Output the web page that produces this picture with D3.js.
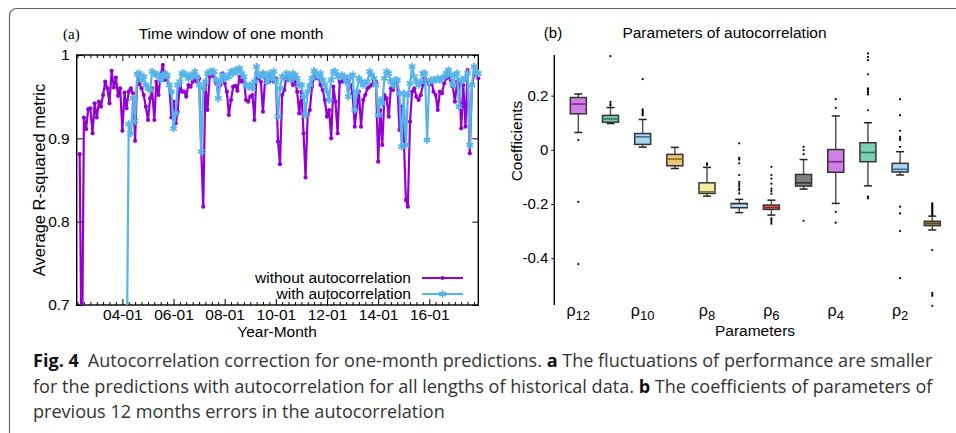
<!DOCTYPE html>
<html lang="en">
  <head>
    <meta charset="utf-8">
    <title>Fig. 4</title>
    <script src="https://cdn.jsdelivr.net/npm/d3@7"></script>
    <style>
html, body {
  margin: 0;
  padding: 0;
  background: #fff;
}
svg {
  display: block;
  font-family: "Liberation Sans", Arial, sans-serif;
}
.axis text {
  font-size: 15px;
  fill: #000;
}
.axis path.domain {
  display: none;
}
.caption {
  font-family: "Open Sans", "Noto Sans", sans-serif;
  fill: #333;
}
    </style>
  </head>
  <body>
    <svg id="fig" width="956" height="433"></svg>
    <script>

// ---- data (a): average R-squared, one value per month ----
// without autocorrelation starts 2002-05, with autocorrelation starts 2004-03
var startWithout = [2002, 4];
var startWith = [2004, 2];

var withoutAuto = [
  0.881, 0.600, 0.925, 0.911, 0.935, 0.936, 0.906, 0.942, 0.925, 0.944,
  0.938, 0.952, 0.968, 0.960, 0.942, 0.981, 0.961, 0.973, 0.951, 0.960,
  0.909, 0.955, 0.936, 0.956, 0.960, 0.954, 0.897, 0.976, 0.965, 0.960,
  0.952, 0.938, 0.922, 0.948, 0.960, 0.922, 0.968, 0.952, 0.976, 0.988,
  0.970, 0.972, 0.964, 0.925, 0.944, 0.918, 0.932, 0.968, 0.956, 0.956,
  0.950, 0.964, 0.962, 0.968, 0.970, 0.968, 0.972, 0.884, 0.818, 0.964,
  0.934, 0.974, 0.976, 0.974, 0.966, 0.958, 0.964, 0.978, 0.966, 0.956,
  0.928, 0.946, 0.962, 0.963, 0.957, 0.974, 0.968, 0.972, 0.946, 0.944,
  0.950, 0.952, 0.922, 0.978, 0.972, 0.968, 0.932, 0.972, 0.976, 0.968,
  0.970, 0.968, 0.972, 0.896,
  0.869, 0.952, 0.958, 0.974, 0.970, 0.974, 0.964, 0.972, 0.956, 0.930,
  0.956, 0.906, 0.853, 0.928, 0.934, 0.962, 0.974, 0.972, 0.974, 0.964,
  0.958, 0.946, 0.926, 0.934, 0.900, 0.962, 0.944, 0.906, 0.968, 0.968,
  0.970, 0.972, 0.968, 0.964, 0.954, 0.914, 0.936, 0.956, 0.914, 0.946,
  0.952, 0.960, 0.962, 0.964, 0.970, 0.968, 0.872, 0.934, 0.892, 0.952,
  0.948, 0.926, 0.960, 0.958, 0.968, 0.968, 0.910, 0.938, 0.904, 0.826,
  0.818, 0.920, 0.956, 0.960, 0.950, 0.946, 0.952, 0.964, 0.972, 0.968,
  0.964, 0.970, 0.956, 0.952, 0.934, 0.956, 0.954, 0.966, 0.972, 0.974,
  0.970, 0.962, 0.944, 0.968, 0.970, 0.912, 0.964, 0.914, 0.982, 0.882,
  0.964, 0.976, 0.978, 0.972
];

var withAuto = [
  0.600,
  0.917, 0.906, 0.948, 0.921, 0.977, 0.978, 0.970, 0.974, 0.964, 0.960,
  0.958, 0.980, 0.978, 0.976, 0.976, 0.970, 0.974, 0.978, 0.976, 0.964,
  0.956, 0.912, 0.930, 0.964, 0.968, 0.978, 0.978, 0.976, 0.972, 0.976,
  0.974, 0.980, 0.974, 0.964, 0.884, 0.960, 0.968, 0.978, 0.980, 0.980,
  0.980, 0.970, 0.948, 0.968, 0.976, 0.972, 0.974, 0.974, 0.980, 0.978,
  0.982, 0.980, 0.984, 0.978, 0.974, 0.964, 0.962, 0.964, 0.960, 0.968,
  0.986, 0.976, 0.974, 0.978, 0.976, 0.968, 0.978, 0.972, 0.980, 0.968,
  0.926,
  0.960, 0.974, 0.972, 0.978, 0.976, 0.970, 0.978, 0.976, 0.972, 0.964,
  0.964, 0.950, 0.928, 0.956, 0.964, 0.972, 0.981, 0.978, 0.974, 0.978,
  0.970, 0.964, 0.956, 0.946, 0.970, 0.980, 0.980, 0.974, 0.974, 0.976,
  0.974, 0.968, 0.950, 0.974, 0.976, 0.934, 0.956, 0.972, 0.968, 0.964,
  0.966, 0.968, 0.980, 0.976, 0.972, 0.964, 0.928, 0.946, 0.942, 0.972,
  0.980, 0.978, 0.968, 0.964, 0.970, 0.970, 0.954, 0.890, 0.954, 0.892,
  0.952, 0.966, 0.986, 0.974, 0.968, 0.964, 0.968, 0.978, 0.978, 0.898,
  0.968, 0.970, 0.970, 0.970, 0.972, 0.970, 0.972, 0.974, 0.978, 0.982,
  0.976, 0.964, 0.976, 0.978, 0.938, 0.970, 0.970, 0.972, 0.978, 0.892,
  0.964, 0.986, 0.978, 0.978
];

var yTicksA = [0.7, 0.8, 0.9, 1];
var xMajorYears = [2004, 2006, 2008, 2010, 2012, 2014, 2016];

// ---- data (b): box plots of the 12 coefficients ----
var params = ["12", "11", "10", "9", "8", "7", "6", "5", "4", "3", "2", "1"];
var boxColors = ["#cf7fe6", "#7fcfb6", "#a6d6f0", "#f0c674", "#f6ee9e", "#6aa8d6",
                 "#e8736a", "#808080", "#cf7fe6", "#7fcfb6", "#a6d6f0", "#b39656"];
var medColors = ["#7a2a90", "#2e7a62", "#3d6f8f", "#8a6a20", "#7a7440", "#cfe6f6",
                 "#8a2a24", "#333333", "#7a2a90", "#2e7a62", "#3d6f8f", "#5a4820"];
var whiskLo = [0.064, 0.097, 0.010, -0.069, -0.171, -0.232, -0.241, -0.145, -0.198, -0.133, -0.093, -0.296];
var q1 = [0.133, 0.102, 0.020, -0.059, -0.161, -0.214, -0.220, -0.134, -0.083, -0.044, -0.082, -0.280];
var median = [0.169, 0.114, 0.048, -0.034, -0.155, -0.207, -0.213, -0.122, -0.044, -0.010, -0.072, -0.272];
var q3 = [0.193, 0.127, 0.060, -0.017, -0.122, -0.198, -0.204, -0.091, 0.001, 0.026, -0.050, -0.264];
var whiskHi = [0.206, 0.156, 0.112, 0.009, -0.065, -0.183, -0.186, -0.036, 0.125, 0.100, -0.007, -0.245];
var outliers = [
  [0.036, -0.192, -0.422],
  [0.346, 0.177, 0.169, 0.164],
  [0.261, 0.149, 0.143, 0.138, 0.133, 0.128],
  [],
  [-0.050, -0.056],
  [0.024, -0.030, -0.036, -0.050, -0.093, -0.118, -0.126, -0.134, -0.142, -0.149, -0.161],
  [-0.063, -0.093, -0.106, -0.125, -0.143, -0.152, -0.162, -0.253, -0.259, -0.266, -0.273],
  [0.011, -0.001, -0.016, -0.262],
  [0.187, 0.155, -0.229, -0.269],
  [0.356, 0.343, 0.331, 0.279, 0.227, 0.222, 0.216, 0.210, 0.204, 0.146, -0.173, -0.179],
  [0.187, 0.128, 0.070, 0.048, 0.042, 0.036, 0.011, -0.210, -0.235, -0.300, -0.474],
  [-0.198, -0.202, -0.206, -0.210, -0.214, -0.218, -0.222, -0.226, -0.230, -0.234, -0.238, -0.241,
   -0.370, -0.528, -0.535, -0.539, -0.576]
];
var yTicksB = [0.2, 0, -0.2, -0.4];

var captionLines = [
  [["Fig. 4", true], ["\u2002Autocorrelation correction for one-month predictions. ", false], ["a", true], [" The fluctuations of performance are smaller", false]],
  [["for the predictions with autocorrelation for all lengths of historical data. ", false], ["b", true], [" The coefficients of parameters of", false]],
  [["previous 12 months errors in the autocorrelation", false]]
];

var svg = d3.select("#fig");

// Rahmen um die Abbildung
svg.append("rect")
    .attr("x", 9.5).attr("y", 8.5)
    .attr("width", 1000).attr("height", 600)
    .attr("rx", 7)
    .attr("fill", "none")
    .attr("stroke", "#666")
    .attr("stroke-width", 1.2);

// ================= panel (a) =================
var x = d3.scaleTime()
    .domain([new Date(2002, 2, 20), new Date(2017, 11, 1)])
    .range([76.7, 478.3]);
var y = d3.scaleLinear().domain([0.7, 1]).range([305, 55]);

var ga = svg.append("g");

svg.append("clipPath").attr("id", "clipA")
  .append("rect").attr("x", 60).attr("y", 40).attr("width", 440).attr("height", 265);

var majorDates = xMajorYears.map(function(yr) { return new Date(yr, 0, 1); });
var minorDates = x.ticks(d3.timeMonth.every(3)).filter(function(d) {
  return !(d.getMonth() === 0 && d.getFullYear() % 2 === 0);
});

// Achsen, Ticks nach innen
ga.append("g").attr("class", "axis").attr("transform", "translate(0,305)")
    .call(d3.axisBottom(x).tickValues(majorDates).tickFormat(d3.timeFormat("%y-%m"))
      .tickSizeInner(-6).tickSizeOuter(0).tickPadding(4));
ga.append("g").attr("class", "axis").attr("transform", "translate(0,305)")
    .call(d3.axisBottom(x).tickValues(minorDates).tickFormat("").tickSizeInner(-3).tickSizeOuter(0));
ga.append("g").attr("class", "axis").attr("transform", "translate(0,55)")
    .call(d3.axisTop(x).tickValues(majorDates).tickFormat("").tickSizeInner(-6).tickSizeOuter(0));
ga.append("g").attr("class", "axis").attr("transform", "translate(0,55)")
    .call(d3.axisTop(x).tickValues(minorDates).tickFormat("").tickSizeInner(-3).tickSizeOuter(0));
ga.append("g").attr("class", "axis").attr("transform", "translate(76.7,0)")
    .call(d3.axisLeft(y).tickValues(yTicksA)
      .tickFormat(function(d) { return d === 1 ? "1" : d3.format(".1f")(d); })
      .tickSizeInner(-6).tickSizeOuter(0).tickPadding(7));
ga.append("g").attr("class", "axis").attr("transform", "translate(478.3,0)")
    .call(d3.axisRight(y).tickValues(yTicksA).tickFormat("").tickSizeInner(-6).tickSizeOuter(0));
ga.selectAll(".axis text").style("font-size", "15.5px");
ga.selectAll(".axis line").attr("stroke", "#000");

ga.append("rect")
    .attr("x", 76.7).attr("y", 55).attr("width", 478.3 - 76.7).attr("height", 250)
    .attr("fill", "none").attr("stroke", "#000").attr("stroke-width", 1.4);

function series(values, start) {
  return values.map(function(v, i) {
    return { date: new Date(start[0], start[1] + i, 1), value: v };
  });
}
var seriesA = [
  { name: "without autocorrelation", color: "#9400d3", data: series(withoutAuto, startWithout), mark: "dot" },
  { name: "with autocorrelation", color: "#56b4e9", data: series(withAuto, startWith), mark: "star" }
];

var line = d3.line().x(function(d) { return x(d.date); }).y(function(d) { return y(d.value); });
var star = d3.symbol(d3.symbolAsterisk, 40);

var plot = ga.append("g").attr("clip-path", "url(#clipA)");
seriesA.forEach(function(s) {
  var g = plot.append("g");
  g.append("path").datum(s.data)
      .attr("d", line)
      .attr("fill", "none")
      .attr("stroke", s.color)
      .attr("stroke-width", 2.2)
      .attr("stroke-linejoin", "round");
  if (s.mark === "dot") {
    g.selectAll("circle").data(s.data).enter().append("circle")
        .attr("cx", function(d) { return x(d.date); })
        .attr("cy", function(d) { return y(d.value); })
        .attr("r", 2.1)
        .attr("fill", s.color);
  } else {
    g.selectAll("path.mk").data(s.data).enter().append("path")
        .attr("class", "mk")
        .attr("d", star)
        .attr("transform", function(d) { return "translate(" + x(d.date) + "," + y(d.value) + ")"; })
        .attr("fill", "none")
        .attr("stroke", s.color)
        .attr("stroke-width", 1.8);
  }
});

// Legende
seriesA.forEach(function(s, i) {
  var ly = 278 + i * 16;
  ga.append("text").attr("x", 411).attr("y", ly + 5)
      .attr("text-anchor", "end").style("font-size", "15.5px").text(s.name);
  ga.append("line").attr("x1", 422).attr("x2", 463).attr("y1", ly).attr("y2", ly)
      .attr("stroke", s.color).attr("stroke-width", 2.2);
  if (s.mark === "dot") {
    ga.append("circle").attr("cx", 442.5).attr("cy", ly).attr("r", 2.1).attr("fill", s.color);
  } else {
    ga.append("path").attr("d", star).attr("transform", "translate(442.5," + ly + ")")
        .attr("fill", "none").attr("stroke", s.color).attr("stroke-width", 1.8);
  }
});

ga.append("text").attr("x", 231).attr("y", 39).attr("text-anchor", "middle")
    .style("font-size", "15.5px").text("Time window of one month");
ga.append("text").attr("x", 63).attr("y", 39)
    .style("font-family", "'Liberation Serif', serif").style("font-size", "15px").text("(a)");
ga.append("text").attr("x", 277).attr("y", 337).attr("text-anchor", "middle")
    .style("font-size", "15.5px").text("Year-Month");
ga.append("text").attr("transform", "translate(45,180) rotate(-90)").attr("text-anchor", "middle")
    .style("font-size", "16.5px").text("Average R-squared metric");

// ================= panel (b) =================
var yb = d3.scaleLinear().domain([-0.573, 0.35]).range([305, 55]);
var xb = d3.scalePoint().domain(params).range([578.3, 932.3]);
var boxW = 16, capW = 8;

var gb = svg.append("g");
gb.append("line").attr("x1", 554.3).attr("x2", 554.3).attr("y1", 55).attr("y2", 305)
    .attr("stroke", "#000").attr("stroke-width", 1.4);
gb.append("g").attr("class", "axis").attr("transform", "translate(554.3,0)")
    .call(d3.axisLeft(yb).tickValues(yTicksB)
      .tickFormat(function(d) { return d === 0 ? "0" : d3.format(".1f")(d).replace("\u2212", "-"); })
      .tickSizeInner(3).tickSizeOuter(0).tickPadding(3));

var boxes = params.map(function(p, i) {
  return { p: p, lo: whiskLo[i], q1: q1[i], med: median[i], q3: q3[i], hi: whiskHi[i],
           out: outliers[i], fill: boxColors[i], medc: medColors[i] };
});

var bx = gb.selectAll("g.box").data(boxes).enter().append("g").attr("class", "box");
bx.append("line")
    .attr("x1", function(d) { return xb(d.p); }).attr("x2", function(d) { return xb(d.p); })
    .attr("y1", function(d) { return yb(d.hi); }).attr("y2", function(d) { return yb(d.lo); })
    .attr("stroke", "#555").attr("stroke-width", 1.5);
["hi", "lo"].forEach(function(k) {
  bx.append("line")
      .attr("x1", function(d) { return xb(d.p) - capW / 2; })
      .attr("x2", function(d) { return xb(d.p) + capW / 2; })
      .attr("y1", function(d) { return yb(d[k]); }).attr("y2", function(d) { return yb(d[k]); })
      .attr("stroke", "#222").attr("stroke-width", 1.5);
});
bx.append("rect")
    .attr("x", function(d) { return xb(d.p) - boxW / 2; })
    .attr("y", function(d) { return yb(d.q3); })
    .attr("width", boxW)
    .attr("height", function(d) { return yb(d.q1) - yb(d.q3); })
    .attr("fill", function(d) { return d.fill; })
    .attr("stroke", "#333").attr("stroke-width", 1.5);
bx.append("line")
    .attr("x1", function(d) { return xb(d.p) - boxW / 2; })
    .attr("x2", function(d) { return xb(d.p) + boxW / 2; })
    .attr("y1", function(d) { return yb(d.med); }).attr("y2", function(d) { return yb(d.med); })
    .attr("stroke", function(d) { return d.medc; }).attr("stroke-width", 1.6);
bx.selectAll("circle").data(function(d) { return d.out.map(function(v) { return { p: d.p, v: v }; }); })
  .enter().append("circle")
    .attr("cx", function(d) { return xb(d.p); })
    .attr("cy", function(d) { return yb(d.v); })
    .attr("r", 1.1)
    .attr("fill", "#000");

// x-Beschriftung: nur jeder zweite Parameter
var lab = gb.selectAll("text.rho").data(params.filter(function(p, i) { return i % 2 === 0; }))
  .enter().append("text")
    .attr("class", "rho")
    .attr("x", function(p) { return xb(p); })
    .attr("y", 316)
    .attr("text-anchor", "middle")
    .style("font-size", "16px");
lab.append("tspan").text("\u03c1");
lab.append("tspan").attr("dy", 4).style("font-size", "13px").text(function(p) { return p; });

gb.append("text").attr("x", 755).attr("y", 336).attr("text-anchor", "middle")
    .style("font-size", "15.5px").text("Parameters");
gb.append("text").attr("transform", "translate(522,141) rotate(-90)").attr("text-anchor", "middle")
    .style("font-size", "15.5px").text("Coefficients");
gb.append("text").attr("x", 724.5).attr("y", 38).attr("text-anchor", "middle")
    .style("font-size", "15.5px").text("Parameters of autocorrelation");
gb.append("text").attr("x", 553).attr("y", 38).attr("text-anchor", "middle")
    .style("font-size", "15px").text("(b)");

// ================= caption =================
var cap = svg.append("g").attr("class", "caption");
var capTexts = captionLines.map(function(parts, i) {
  var t = cap.append("text").attr("x", 33).attr("y", 367 + i * 25.5).style("font-size", "17px");
  parts.forEach(function(pt) {
    t.append("tspan").style("font-weight", pt[1] ? "bold" : "normal")
        .style("fill", pt[1] ? "#111" : "#333").text(pt[0]);
  });
  return t;
});
// Schriftgröße so wählen, dass die erste Zeile bis x=933 reicht
var w0 = capTexts[0].node().getComputedTextLength();
var fs = 17 * 900 / w0;
capTexts.forEach(function(t) { t.style("font-size", fs + "px"); });

    </script>
  </body>
</html>
